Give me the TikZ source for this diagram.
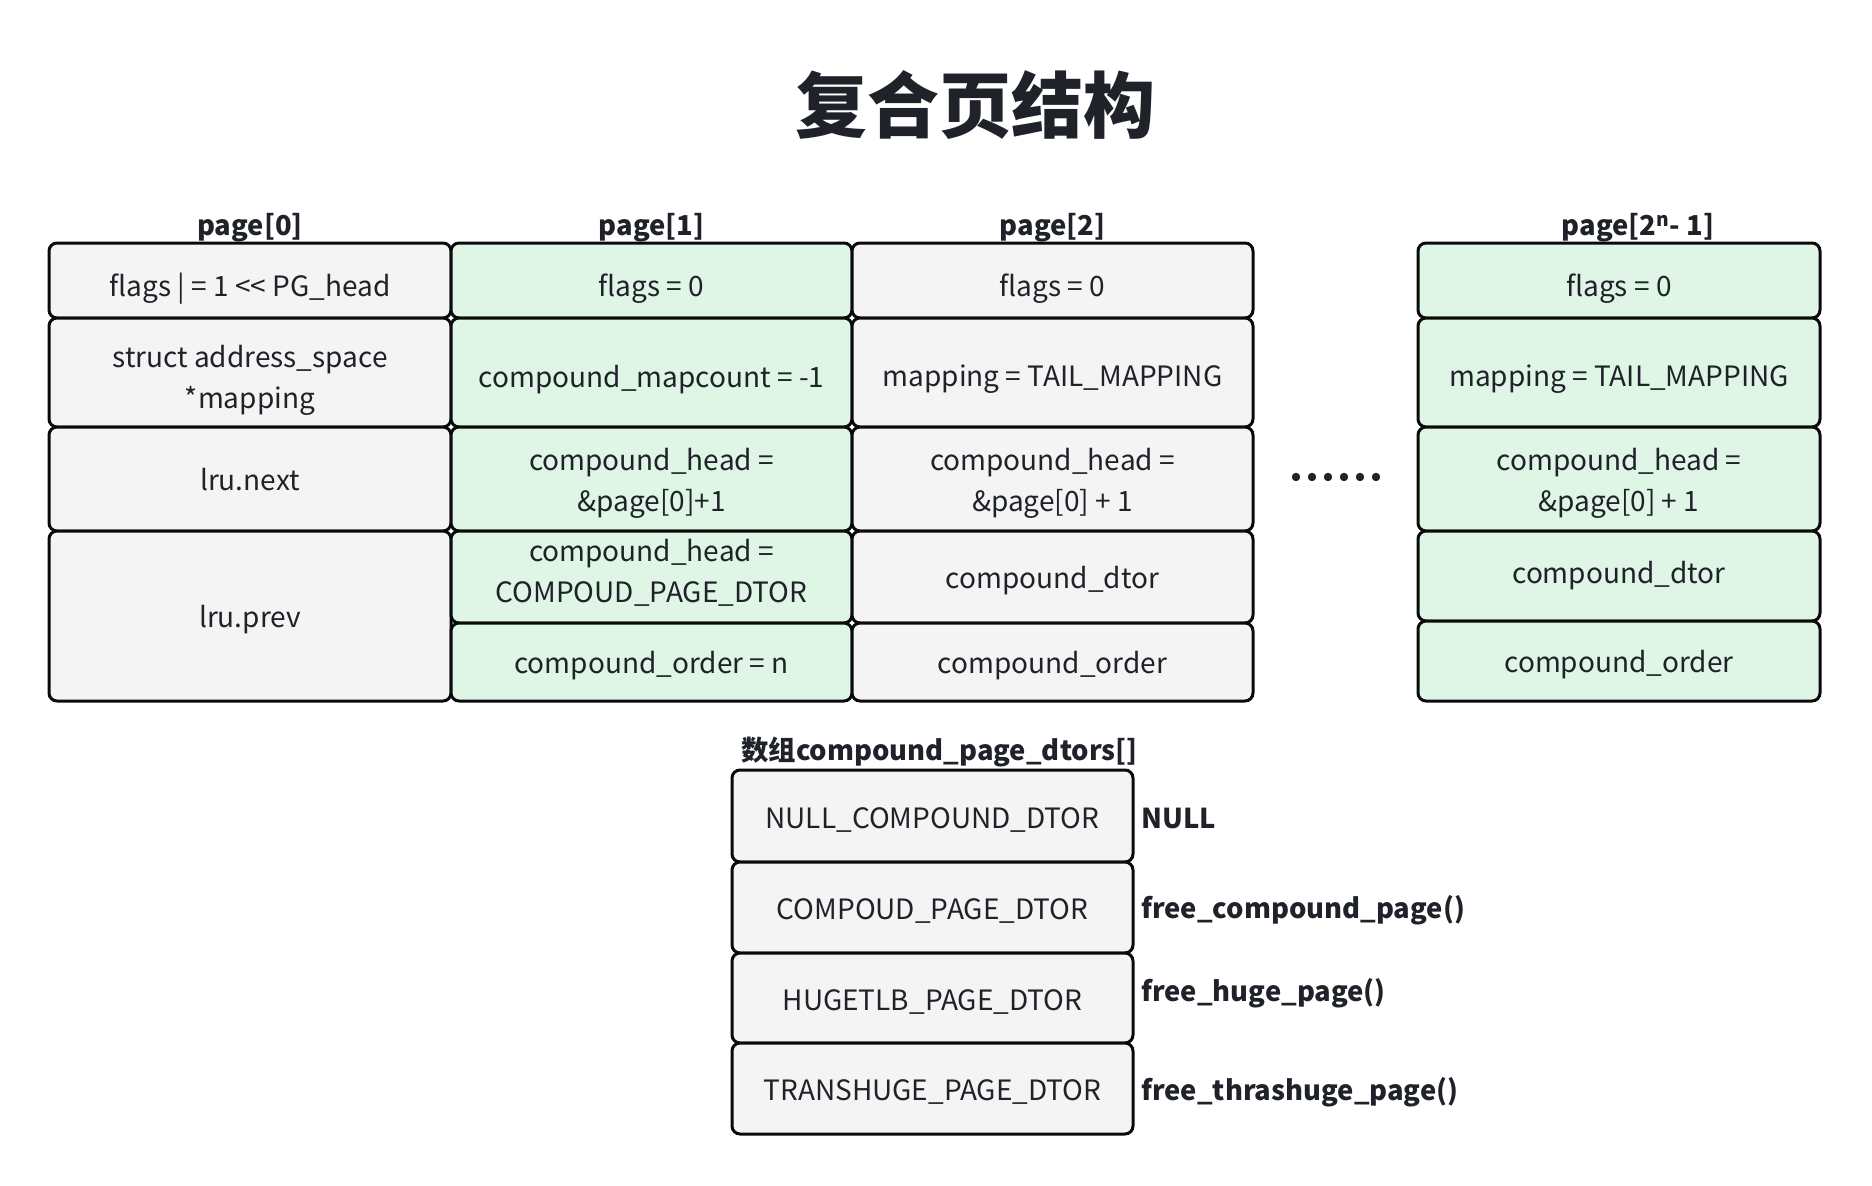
\documentclass[tikz,border=0pt]{standalone}
\usepackage{fontspec}
\setmainfont{Noto Sans CJK SC}
\definecolor{lineblack}{HTML}{0A0A0A}
\definecolor{textdark}{HTML}{1F2329}
\definecolor{graybg}{HTML}{F4F4F4}
\definecolor{greenbg}{HTML}{DFF5E6}
\newcommand\cellfont{\fontsize{28}{41}\selectfont}
\newcommand\hdrfont{\fontsize{27.4}{34}\selectfont\bfseries}
\newcommand\ttlfont{\fontsize{72}{80}\selectfont\bfseries}
\begin{document}
\begin{tikzpicture}[x=1pt,y=-1pt,
  cell/.style={draw=lineblack, line width=3pt, rounded corners=8pt, inner sep=0pt},
  graycell/.style={cell, fill=graybg},
  greencell/.style={cell, fill=greenbg},
  sz/.style 2 args={minimum width=#1pt, minimum height=#2pt},
  celltxt/.style={align=center, text=textdark, font=\cellfont, inner sep=0pt},
  txt/.style={label={[celltxt, yshift=-4pt]center:#1}},
  txts/.style 2 args={label={[celltxt, yshift=#2]center:#1}},
  hdr/.style={font=\hdrfont, text=textdark, inner sep=0pt},
  lbl/.style={font=\hdrfont, text=textdark, inner sep=0pt, anchor=west},
  dotmark/.style={fill=textdark, draw=none}
]
\useasboundingbox[fill=white] (0,0) rectangle (1872,1186);

% title
\node[font=\ttlfont, text=textdark, inner sep=0pt] (title) at (975,105) {复合页结构};

% headers
\node[hdr] (h0) at (250,228) {page[0]};
\node[hdr] (h1) at (651.5,228) {page[1]};
\node[hdr] (h2) at (1052.5,228) {page[2]};
\node[hdr] (h3) at (1638,228) {page[2\textsuperscript{n}- 1]};

% column 0
\node[graycell, sz={402}{75},  txts={flags | = 1 <{}< PG\_head}{-8pt}] (c00) at (250,280.5) {};
\node[graycell, sz={402}{109}, txts={struct address\_space\\*mapping}{-8pt}] (c01) at (250,372.5) {};
\node[graycell, sz={402}{104}, txts={lru.next}{-1pt}] (c02) at (250,479) {};
\node[graycell, sz={402}{170}, txt={lru.prev}] (c03) at (250,616) {};

% column 1
\node[greencell, sz={401}{75},  txts={flags = 0}{-8pt}] (c10) at (651.5,280.5) {};
\node[greencell, sz={401}{109}, txts={compound\_mapcount = -1}{-7pt}] (c11) at (651.5,372.5) {};
\node[greencell, sz={401}{104}, txt={compound\_head =\\\&page[0]+1}] (c12) at (651.5,479) {};
\node[greencell, sz={401}{92},  txts={compound\_head =\\COMPOUD\_PAGE\_DTOR}{4pt}] (c13) at (651.5,577) {};
\node[greencell, sz={401}{78},  txt={compound\_order = n}] (c14) at (651.5,662) {};

% column 2
\node[graycell, sz={401}{75},  txts={flags = 0}{-8pt}] (c20) at (1052.5,280.5) {};
\node[graycell, sz={401}{109}, txts={mapping = TAIL\_MAPPING}{-7pt}] (c21) at (1052.5,372.5) {};
\node[graycell, sz={401}{104}, txt={compound\_head =\\\&page[0] + 1}] (c22) at (1052.5,479) {};
\node[graycell, sz={401}{92},  txt={compound\_dtor}] (c23) at (1052.5,577) {};
\node[graycell, sz={401}{78},  txt={compound\_order}] (c24) at (1052.5,662) {};

% dots
\foreach \i in {0,...,5} {
  \fill[dotmark] (1296+16*\i,477) circle (4.2);
}

% column 3
\node[greencell, sz={402}{75},  txts={flags = 0}{-8pt}] (c30) at (1619,280.5) {};
\node[greencell, sz={402}{109}, txts={mapping = TAIL\_MAPPING}{-7pt}] (c31) at (1619,372.5) {};
\node[greencell, sz={402}{104}, txt={compound\_head =\\\&page[0] + 1}] (c32) at (1619,479) {};
\node[greencell, sz={402}{90},  txts={compound\_dtor}{0pt}] (c33) at (1619,576) {};
\node[greencell, sz={402}{80},  txt={compound\_order}] (c34) at (1619,661) {};

% dtor array
\node[lbl] (dh) at (741,752) {数组compound\_page\_dtors[]};
\node[graycell, sz={401}{92}, txt={NULL\_COMPOUND\_DTOR}] (d0) at (932.5,816) {};
\node[graycell, sz={401}{91}, txt={COMPOUD\_PAGE\_DTOR}] (d1) at (932.5,907.5) {};
\node[graycell, sz={401}{90}, txt={HUGETLB\_PAGE\_DTOR}] (d2) at (932.5,998) {};
\node[graycell, sz={401}{91}, txt={TRANSHUGE\_PAGE\_DTOR}] (d3) at (932.5,1088.5) {};

\node[lbl] (l0) at (1141,818) {NULL};
\node[lbl] (l1) at (1141,910) {free\_compound\_page()};
\node[lbl] (l2) at (1141,993) {free\_huge\_page()};
\node[lbl] (l3) at (1141,1092) {free\_thrashuge\_page()};
\end{tikzpicture}
\end{document}
